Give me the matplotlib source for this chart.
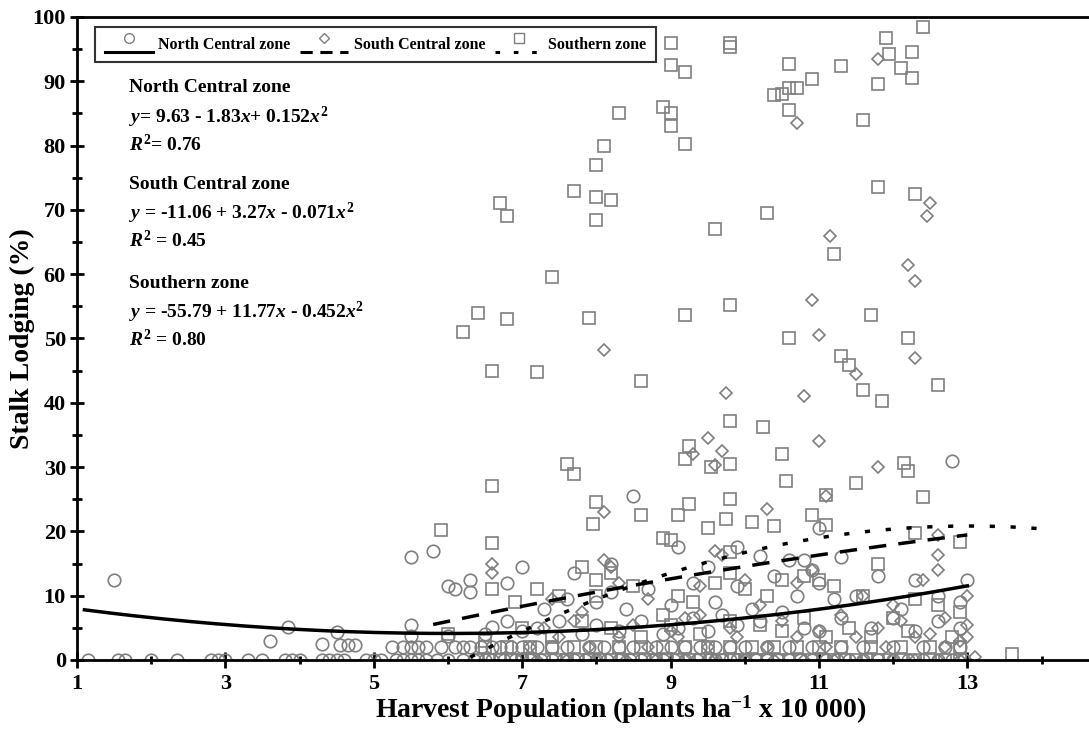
import matplotlib
matplotlib.use("Agg")
import matplotlib.pyplot as plt
import numpy as np
from matplotlib.lines import Line2D
from matplotlib.legend_handler import HandlerBase

# ---------------- data ----------------
# North Central zone (circles)
nc_x = [1.15,1.55,1.65,2.0,2.35,2.8,2.9,3.0,3.3,3.5,3.8,3.9,4.0,4.3,4.4,4.5,4.6,4.9,5.0,5.1,5.3,5.4,5.5,5.6,5.7,5.85,6.0,6.2,6.35,6.5,6.6,6.75,6.9,7.0,7.1,7.25,7.4,7.55,7.7,7.85,8.0,8.15,8.3,8.45,8.6,8.75,8.9,9.05,9.2,9.35,9.5,9.6,9.7,9.8,9.9,10.0,10.15,10.3,10.45,10.6,10.75,10.9,11.1,11.25,11.4,11.6,11.8,12.0,12.2,12.4,12.6,12.8,12.95,
        5.25,5.4,5.5,5.6,5.7,5.9,6.1,6.2,6.3,6.45,6.6,6.7,6.85,7.0,7.2,7.4,7.6,7.9,8.1,8.3,8.5,8.8,9.0,9.2,9.4,9.6,9.8,10.0,10.3,10.6,10.9,11.3,11.6,12.0,12.4,12.7,12.9,
        3.6,3.85,4.3,4.5,4.55,4.65,4.75,5.5,5.5,6.0,6.5,6.6,6.8,7.0,7.2,7.5,7.8,8.0,8.3,8.6,8.9,9.1,9.3,9.5,9.7,9.9,10.2,10.5,10.8,11.0,11.3,11.7,12.0,12.3,12.6,12.9,
        6.1,6.3,6.3,6.8,7.3,7.6,8.0,8.2,8.4,8.7,9.0,9.3,9.6,9.9,10.1,10.4,10.7,10.9,11.0,11.2,11.5,11.8,12.3,12.6,12.9,13.0,12.1,
        1.5,5.5,5.8,6.0,8.5,12.8,9.1,9.9,10.2,10.6,11.0,11.3,7.0,7.7,8.2,9.5,10.8]
nc_y = [0]*73 + \
       [2]*37 + \
       [3,5.2,2.5,4.3,2.4,2.4,2.4,5.5,3.8,3.8,4,5.2,6,4.5,5,6,4,5.5,4.5,6,4,5,6.5,4.5,7,5.5,6,7.5,5,4.5,6.5,5,6.5,4.5,6,5] + \
       [11,12.5,10.5,12,8,9.5,9,10.5,8,11,8.5,12,9,11.5,8,13,10,14,12,9.5,10,13,12.5,10,9,12.5,8] + \
       [12.5,16,17,11.5,25.5,31,17.5,17.5,16.2,15.5,20.5,16,14.5,13.5,15,14.5,15.5]

# South Central zone (diamonds)
sc_x = [11.8,10.7,8.1,11.15,12.5,12.45,12.2,12.3,12.3,10.9,11.0,11.5,9.75,10.8,11.0,9.5,9.3,9.7,9.6,8.1,10.3,11.1,11.8,12.6,12.6,12.4,12.6,
        6.6,6.6,8.1,8.2,7.4,8.3,9.6,9.7,10.0,10.7,10.9,11.6,12.1,12.7,13.0,13.0,8.7,9.2,9.4,7.8,10.2,11.3,12.0,
        7.2,7.6,8.0,8.4,8.8,9.2,9.6,10.0,10.4,10.8,11.2,11.6,12.0,12.3,12.6,12.9,13.1,
        7.1,7.5,7.9,8.3,8.7,9.1,9.5,9.9,10.3,10.7,11.1,11.5,11.9,12.3,12.7,13.0,
        7.3,7.7,8.5,9.0,9.4,9.8,10.5,11.0,11.8,12.5,12.9]
sc_y = [93.5,83.5,48.2,66,71,69,61.5,59,47,56,50.5,44.5,41.5,41,34,34.5,32,32.5,30.3,23,23.5,25.5,30,19.5,16.3,12.5,14,
        15,13.5,15.5,14.5,9.5,12,17,16.3,12.5,12,14,10,6,6.5,10,5.5,9.5,6.5,11.5,7.5,8.5,7,8.5,
        0,0,0,0,0,0,0,0,0,0,0,0,0,0,0,0,0.5,
        2,3.5,2,3.5,2,3.5,2,3.5,2,3.5,2,3.5,2,3.5,2,3.5,
        5,6,5.5,4.5,7,5,6,4.5,5,4,3]

# Southern zone (squares)
s_x = [9.0,9.0,9.2,9.8,9.8,8.9,9.0,9.0,9.2,8.3,8.1,8.0,7.7,8.0,8.2,8.0,7.4,6.7,6.8,9.6,10.4,10.5,10.6,10.7,10.9,10.6,10.6,11.3,11.9,11.8,11.95,12.1,12.25,12.25,12.4,11.6,11.8,12.3,10.3,11.2,
       6.2,6.4,6.8,7.9,9.2,9.8,6.6,7.2,8.6,10.6,11.3,11.4,11.6,11.85,11.7,12.2,12.6,10.25,10.5,9.8,9.25,9.2,9.55,9.8,7.6,7.7,6.6,
       5.9,6.6,8.0,7.95,8.6,8.9,9.0,9.1,9.25,9.5,9.75,9.8,10.1,10.55,10.4,10.9,11.1,11.5,11.1,12.15,12.2,12.4,12.9,12.3,9.8,
       6.6,6.9,7.2,7.5,7.8,8.0,8.2,8.5,8.0,8.9,9.1,9.3,9.6,9.8,10.0,10.3,10.5,10.8,11.0,11.2,11.6,11.8,12.0,12.3,12.6,12.9,11.7,10.5,11.1,
       6.0,6.5,7.0,7.4,7.8,8.2,8.6,9.0,9.4,9.8,10.2,10.8,11.4,12.2,12.8,13.6,
       6.4,6.55,6.7,6.85,7.0,7.15,7.3,7.45,7.6,7.75,7.9,8.05,8.2,8.35,8.5,8.65,8.8,8.95,9.1,9.25,9.4,9.55,9.7,9.85,10.0,10.15,10.3,10.45,10.6,10.75,10.9,11.05,11.2,11.35,11.5,11.65,11.8,11.95,12.1,12.3,12.5,12.7,12.9,
       6.5,6.8,7.1,7.4,7.7,8.0,8.3,8.6,8.9,9.2,9.5,9.8,10.1,10.4,10.7,11.0,11.3,11.7,12.1,12.5,12.9]
s_y = [96,92.5,91.5,96,95.3,86,85,83,80.2,85,80,77,73,72,71.5,68.5,59.5,71,69,67,87.8,88,89,89,90.3,92.7,85.5,92.3,96.8,89.5,94.3,92,94.6,90.5,98.5,84,73.5,72.5,69.5,63.2,
       51,54,53,53.2,53.7,55.2,45,44.8,43.4,50,47.3,45.8,42,40.3,53.6,50,42.8,36.3,32,37.2,33.2,31.3,30,30.5,30.5,29,27,
       20.2,18.2,24.6,21.2,22.6,19,18.6,22.6,24.3,20.6,22,25,21.5,27.8,20.8,22.6,25.7,27.5,21.0,30.6,29.4,25.4,18.4,19.7,16.8,
       11,9,11,10,14.5,12.5,13.5,11.5,10,7,10,9,12,13.5,11,10,12.5,13,12.5,11.5,10,15,6.5,9.5,8.5,7.5,3.5,4.5,3.5,
       4,3,5,3.5,6,5,3.5,5.5,4,6,5.5,6.5,5,4.5,3.5,1,
       ] + [0]*43 + [2]*21

# fitted quadratic coefficients (highest power first), as printed in the chart
nc_coef = [0.152, -1.83, 9.63]
sc_coef = [-0.071, 3.27, -11.06]
s_coef = [-0.452, 11.77, -55.79]
nc_range = (1.1, 13.0)
sc_range = (5.8, 13.0)
s_range = (6.3, 13.95)

labels = ["North Central zone", "South Central zone", "Southern zone"]
eq_text = [
    ("North Central zone", r"$y$= 9.63 - 1.83$x$+ 0.152$x^{2}$", r"$R^{2}$= 0.76"),
    ("South Central zone", r"$y$ = -11.06 + 3.27$x$ - 0.071$x^{2}$", r"$R^{2}$ = 0.45"),
    ("Southern zone", r"$y$ = -55.79 + 11.77$x$ - 0.452$x^{2}$", r"$R^{2}$ = 0.80"),
]

# ---------------- style ----------------
plt.rcParams['font.family'] = ['Liberation Serif', 'DejaVu Serif']
plt.rcParams['font.weight'] = 'bold'
plt.rcParams['mathtext.fontset'] = 'custom'
plt.rcParams['mathtext.it'] = 'Liberation Serif:italic:bold'
plt.rcParams['mathtext.rm'] = 'Liberation Serif:bold'
plt.rcParams['mathtext.bf'] = 'Liberation Serif:bold'

gray = '#7f7f7f'

fig = plt.figure(figsize=(10.89, 7.29), dpi=100)
ax = fig.add_axes([0.0707, 0.0947, 0.9293, 0.882])

ax.plot(nc_x, nc_y, linestyle='none', marker='o', ms=9, mfc='none', mec=gray, mew=1.2, zorder=2)
ax.plot(sc_x, sc_y, linestyle='none', marker='D', ms=6.5, mfc='none', mec=gray, mew=1.2, zorder=2)
ax.plot(s_x, s_y, linestyle='none', marker='s', ms=8.5, mfc='none', mec=gray, mew=1.2, zorder=2)

xx = np.linspace(*nc_range, 200)
ax.plot(xx, np.polyval(nc_coef, xx), color='black', lw=2.5, zorder=3)
xx = np.linspace(*sc_range, 200)
ax.plot(xx, np.polyval(sc_coef, xx), color='black', lw=2.5, linestyle=(0, (5, 3.5)), zorder=3)
xx = np.linspace(*s_range, 200)
ax.plot(xx, np.polyval(s_coef, xx), color='black', lw=2.5, linestyle=(0, (1.5, 4.5)), zorder=3)

ax.set_xlim(1, 14.64)
ax.set_ylim(0, 100)
ax.set_xticks([1, 3, 5, 7, 9, 11, 13])
ax.set_xticks([2, 4, 6, 8, 10, 12, 14], minor=True)
ax.set_yticks(range(0, 101, 10))
ax.set_yticks(range(5, 100, 10), minor=True)
ax.tick_params(axis='both', which='major', labelsize=16, width=2)
ax.tick_params(axis='y', which='major', direction='inout', length=10, pad=3)
ax.tick_params(axis='y', which='minor', direction='inout', length=7, width=2)
ax.tick_params(axis='x', which='major', direction='inout', length=12, pad=4)
ax.tick_params(axis='x', which='minor', direction='inout', length=6, width=2)
for lab in ax.get_xticklabels() + ax.get_yticklabels():
    lab.set_fontweight('bold')

for side in ['left', 'bottom', 'top']:
    ax.spines[side].set_linewidth(2)
ax.spines['right'].set_visible(False)

ax.set_ylabel("Stalk Lodging (%)", fontsize=20, fontweight='bold')
ax.yaxis.set_label_coords(-0.041, 0.5)
ax.set_xlabel(r"Harvest Population (plants ha$^{-1}$ x 10 000)", fontsize=20, fontweight='bold')
ax.xaxis.set_label_coords(0.537, -0.052)

# annotation text
y0s = [89, 74.0, 58.6]
for (title, eq, r2), y0 in zip(eq_text, y0s):
    ax.text(1.7, y0, title, fontsize=14, fontweight='bold', va='center')
    ax.text(1.7, y0 - 4.6, eq, fontsize=14, fontweight='bold', va='center')
    ax.text(1.7, y0 - 8.8, r2, fontsize=14, fontweight='bold', va='center')

# legend with marker above line
class MarkerOverLine(HandlerBase):
    def create_artists(self, legend, orig_handle, xdescent, ydescent, width, height, fontsize, trans):
        mk, ls = orig_handle
        line = Line2D([-xdescent, width - xdescent], [-ydescent - 0.3 * height] * 2,
                      color='black', lw=2.2, linestyle=ls, transform=trans)
        m = Line2D([width / 2 - xdescent], [height * 0.95 - ydescent], marker=mk[0], ms=mk[1],
                   mfc='none', mec=gray, mew=1.0, linestyle='none', transform=trans)
        return [line, m]

handles = [(('o', 7), '-'), (('D', 5.5), (0, (4, 2.5))), (('s', 6.5), (0, (1.5, 4.5)))]
leg = ax.legend(handles, labels, handler_map={tuple: MarkerOverLine()},
                loc='upper left', bbox_to_anchor=(0.018, 0.984), ncol=3, frameon=True,
                fancybox=False, edgecolor='black', fontsize=11.5, handlelength=3.0,
                columnspacing=0.6, handletextpad=0.35, borderpad=0.6, borderaxespad=0)
leg.get_frame().set_linewidth(1.5)
for t in leg.get_texts():
    t.set_fontweight('bold')

fig.savefig("out.png", dpi=100)
